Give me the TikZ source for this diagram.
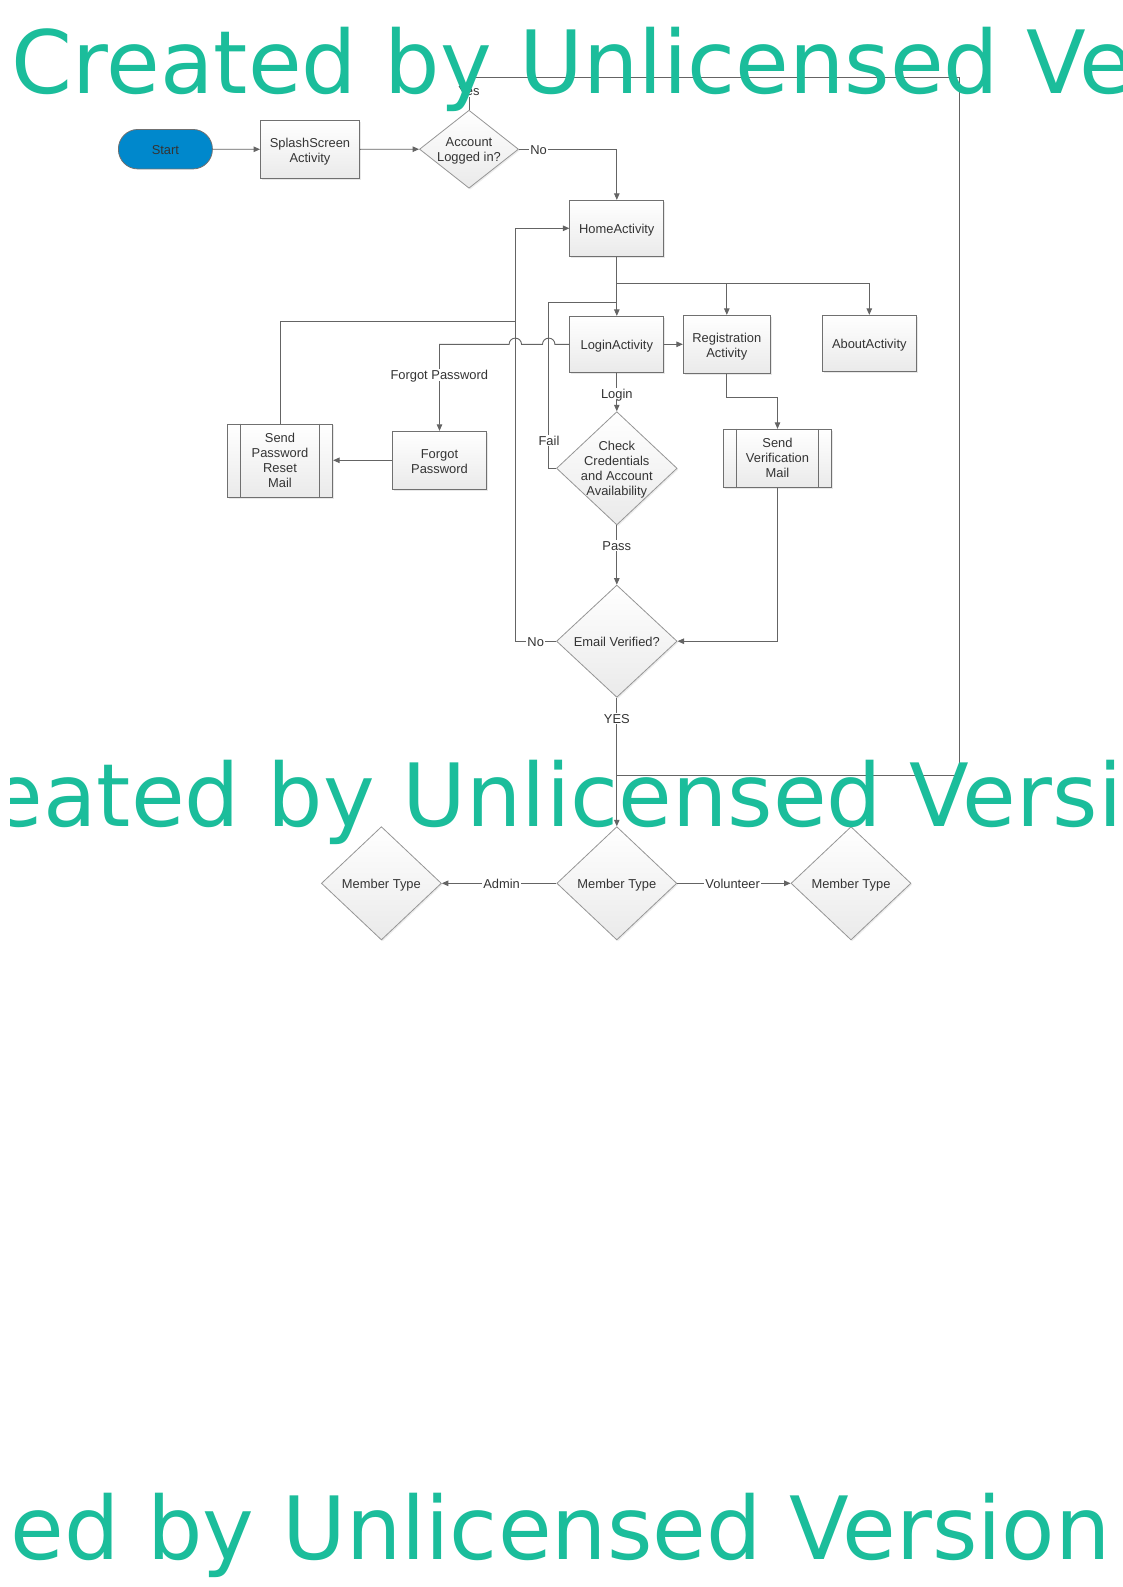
\documentclass[tikz,border=0pt]{standalone}
\usepackage{fontspec}
\setmainfont{Liberation Sans}
\newfontfamily\wmfont{DejaVu Sans}
\usetikzlibrary{arrows.meta,shapes.geometric,shadows,calc}
\definecolor{linec}{RGB}{100,100,100}
\definecolor{boxc}{RGB}{112,112,112}
\definecolor{dmdc}{RGB}{150,150,150}
\definecolor{txtc}{RGB}{52,52,52}
\definecolor{startc}{RGB}{0,136,204}
\definecolor{wmc}{RGB}{27,189,155}
\definecolor{shadebot}{RGB}{234,234,234}
\tikzset{
  base/.style={font=\fontsize{12.9}{15}\selectfont, text=txtc, align=center, inner sep=0pt},
  txt/.style={label={[base,text height=9.4pt,text depth=2.7pt,yshift=-2.2pt]center:{#1}}},
  txtm/.style={label={[base,text depth=2.7pt,yshift=-2.2pt]center:{#1}}},
  txtb/.style={label={[base,text depth=2.7pt,yshift=-1pt]center:{#1}}},
  box/.style={rectangle, draw=boxc, line width=0.9pt, inner sep=0pt, top color=white, bottom color=shadebot,
    drop shadow={shadow xshift=1.3pt, shadow yshift=-1.3pt, opacity=0.18}},
  dmd/.style={diamond, draw=dmdc, line width=0.8pt, inner sep=0pt, top color=white, bottom color=shadebot,
    drop shadow={shadow xshift=1.3pt, shadow yshift=-1.3pt, opacity=0.15}},
  conn/.style={draw=linec, line width=0.9pt},
  arr/.style={conn, -{Triangle[length=6.5pt,width=5.5pt]}},
  lbl/.style={base, fill=white, inner xsep=1pt, inner ysep=1pt, text height=9.4pt, text depth=0pt},
  wm/.style={font=\wmfont\fontsize{87.3}{100}\selectfont, text=wmc, inner sep=0pt, anchor=base west},
  sub/.style={draw=boxc, line width=0.9pt}
}
\begin{document}
\begin{tikzpicture}[x=1pt,y=-1pt]
\useasboundingbox[fill=white] (0,0) rectangle (1123,1587);

% nodes
\node[draw=boxc, line width=0.8pt, fill=startc, rounded corners=19.5pt, minimum width=94pt, minimum height=39.5pt, inner sep=0pt, txt={Start}] (start) at (165.4,149.2) {};
\node[box, minimum width=99pt, minimum height=58pt, txtm={SplashScreen\\Activity}] (splash) at (310,149.3) {};
\node[dmd, minimum width=99pt, minimum height=78pt, txtm={Account\\Logged in?}] (acct) at (469,149.2) {};
\node[box, minimum width=94pt, minimum height=56pt, txt={HomeActivity}] (home) at (616.8,228.3) {};
\node[box, minimum width=94pt, minimum height=56pt, txt={LoginActivity}] (login) at (616.8,344.3) {};
\node[box, minimum width=87pt, minimum height=58pt, txtm={Registration\\Activity}] (reg) at (726.8,344.3) {};
\node[box, minimum width=94pt, minimum height=56pt, txt={AboutActivity}] (about) at (869.3,343.3) {};
\node[box, minimum width=94.3pt, minimum height=58pt, txtm={Forgot\\Password}] (fp) at (439.5,460.3) {};
\node[box, minimum width=105.3pt, minimum height=73.3pt, txtb={Send\\Password\\Reset\\Mail}] (sprm) at (280,460.7) {};
\draw[sub] ([xshift=14pt]sprm.north west) -- ([xshift=14pt]sprm.south west);
\draw[sub] ([xshift=-14pt]sprm.north east) -- ([xshift=-14pt]sprm.south east);
\node[box, minimum width=108.3pt, minimum height=58pt, txtb={Send\\Verification\\Mail}] (svm) at (777.5,458.3) {};
\draw[sub] ([xshift=14pt]svm.north west) -- ([xshift=14pt]svm.south west);
\draw[sub] ([xshift=-14pt]svm.north east) -- ([xshift=-14pt]svm.south east);
\node[dmd, minimum width=120.6pt, minimum height=113.3pt, txtb={Check\\Credentials\\and Account\\Availability}] (chk) at (616.8,468.3) {};
\node[dmd, minimum width=120.6pt, minimum height=112.3pt, txt={Email Verified?}] (email) at (616.8,641.2) {};
\node[dmd, minimum width=120pt, minimum height=113.3pt, txt={Member Type}] (mt) at (616.8,883.3) {};
\node[dmd, minimum width=120pt, minimum height=113.3pt, txt={Member Type}] (mtl) at (381.4,883.3) {};
\node[dmd, minimum width=120pt, minimum height=113.3pt, txt={Member Type}] (mtr) at (851,883.3) {};

% join points
\coordinate (yesJoin) at (616.8,775.3);
\coordinate (failJoin) at (616.8,302.3);
\coordinate (sprmJoin) at (515.3,321.3);
\coordinate (br) at (616.8,283.3);

% connectors
\draw[arr] (start.east) -- (splash.west);
\draw[arr] (splash.east) -- (acct.west);
\draw[conn] (acct.north) -- (469,77.3) -- (959.3,77.3) -- (959.3,775.3) -- (yesJoin);
\draw[arr] (acct.east) -| (home.north);
\draw[arr] (home.south) -- (login.north);
\draw[arr] (br) -| (reg.north);
\draw[arr] (br) -| (about.north);
\draw[arr] (login.east) -- (reg.west);
\draw[arr] (login.west) -- (554.9,344.3) arc[start angle=0,end angle=180,radius=6.2pt]
  -- (521.5,344.3) arc[start angle=0,end angle=180,radius=6.2pt]
  -- (fp.north |- login.west) -- (fp.north);
\draw[arr] (fp.west) -- (sprm.east |- fp.west);
\draw[conn] (sprm.north) |- (sprmJoin);
\draw[arr] (login.south) -- (chk.north);
\draw[conn] (chk.west) -- (548.7,468.3) -- (548.7,302.3) -- (failJoin);
\draw[arr] (chk.south) -- (email.north);
\draw[arr] (reg.south) -- (726.8,397.3) -| (svm.north);
\draw[arr] (svm.south) |- (email.east);
\draw[arr] (email.west) -- (515.3,641.2) -- (515.3,228.3) -- (home.west);
\draw[arr] (email.south) -- (mt.north);
\draw[arr] (mt.west) -- (mtl.east);
\draw[arr] (mt.east) -- (mtr.west);

% connector labels
\node[lbl] (lYes) at (469,91) {Yes};
\node[lbl] (lNo1) at (538.5,149.7) {No};
\node[lbl] (lFP) at (439.3,374.8) {Forgot Password};
\node[lbl] (lLogin) at (616.8,394) {Login};
\node[lbl] (lFail) at (549,440.7) {Fail};
\node[lbl] (lPass) at (616.8,545.7) {Pass};
\node[lbl] (lNo2) at (535.7,641.7) {No};
\node[lbl] (lYes2) at (616.8,718.5) {YES};
\node[lbl] (lAdmin) at (501.6,884) {Admin};
\node[lbl] (lVol) at (732.7,884) {Volunteer};

% watermark
\begin{scope}
\clip (10,0) rectangle (1123,1587);
\node[wm] (wm1) at (11.5,93.5) {Created by Unlicensed Version};
\node[wm] (wm2) at (-105.5,826) {Created by Unlicensed Version};
\node[wm] (wm3) at (-226,1559) {Created by Unlicensed Version};
\end{scope}
\end{tikzpicture}
\end{document}
